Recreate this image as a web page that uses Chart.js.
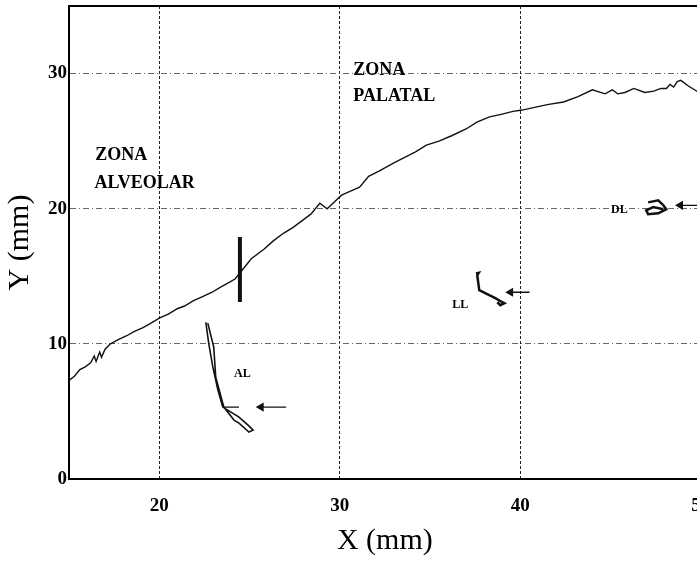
<!DOCTYPE html>
<html>
<head>
<meta charset="utf-8">
<script src="https://cdn.jsdelivr.net/npm/chart.js@4.4.1/dist/chart.umd.min.js"></script>
<style>
  html, body { margin: 0; padding: 0; background: #fff; overflow: hidden; }
  #wrap { width: 706px; height: 561px; }
</style>
</head>
<body>
<div id="wrap"><canvas id="chart"></canvas></div>
<script>
// trace of the tongue contact (mm)
const traceX = [15.0, 15.3, 15.6, 15.9, 16.2, 16.4, 16.5, 16.7, 16.8, 17.0, 17.3, 17.7, 18.2, 18.6, 19.1, 19.5, 20.0, 20.5, 21.0, 21.4, 21.9, 22.4, 22.9, 23.4, 23.8, 24.2, 24.5, 25.1, 25.8, 26.3, 26.9, 27.4, 27.9, 28.4, 28.9, 29.3, 29.7, 30.1, 30.6, 31.1, 31.6, 32.2, 32.6, 33.0, 33.6, 34.2, 34.8, 35.5, 36.2, 37.0, 37.6, 38.3, 39.0, 39.6, 40.1, 40.8, 41.5, 42.4, 43.2, 44.0, 44.7, 45.1, 45.4, 45.8, 46.3, 46.9, 47.4, 47.8, 48.1, 48.3, 48.5, 48.7, 48.9, 49.3, 49.9];
const traceY = [7.3, 7.6, 8.1, 8.3, 8.6, 9.1, 8.7, 9.4, 9.0, 9.6, 10.0, 10.3, 10.6, 10.9, 11.2, 11.5, 11.9, 12.2, 12.6, 12.8, 13.2, 13.5, 13.8, 14.2, 14.5, 14.8, 15.3, 16.3, 17.0, 17.6, 18.2, 18.6, 19.1, 19.6, 20.4, 20.0, 20.5, 21.0, 21.3, 21.6, 22.4, 22.8, 23.1, 23.4, 23.8, 24.2, 24.7, 25.0, 25.4, 25.9, 26.4, 26.8, 27.0, 27.2, 27.3, 27.5, 27.7, 27.9, 28.3, 28.8, 28.5, 28.8, 28.5, 28.6, 28.9, 28.6, 28.7, 28.9, 28.9, 29.2, 29.0, 29.4, 29.5, 29.1, 28.6];

// thick boundary mark between the two zones
const markX = [24.47, 24.47];
const markY = [17.9, 13.1];

// AL contour
const alX = [22.58, 22.74, 22.97, 23.25, 23.52, 24.42, 24.92, 25.20, 24.97, 24.42, 24.14, 23.58, 23.13, 23.02, 22.69];
const alY = [11.60, 10.05, 8.28, 6.58, 5.32, 4.58, 3.99, 3.62, 3.47, 4.14, 4.36, 5.32, 7.54, 9.76, 11.53];
const alStrokeX = [23.58, 24.42];
const alStrokeY = [5.32, 5.32];

// LL contour
const llX = [37.55, 37.70, 37.62, 37.73, 38.06, 38.62, 39.01, 39.12, 38.90, 38.73];
const llY = [15.20, 15.25, 15.08, 13.97, 13.75, 13.38, 13.08, 13.01, 12.86, 13.08];

// DL contour
const dlX = [47.09, 47.65, 47.93, 48.09, 47.65, 47.09, 46.98, 47.37, 47.93];
const dlY = [20.47, 20.62, 20.26, 19.96, 19.66, 19.59, 19.88, 20.12, 19.96];

// arrows (head, tail)
const arrowALX = [25.64, 27.03];
const arrowALY = [5.32, 5.32];
const arrowLLX = [39.46, 40.52];
const arrowLLY = [13.82, 13.82];
const arrowDLX = [48.87, 49.87];
const arrowDLY = [20.25, 20.25];

const xTicks = [20, 30, 40, 50];
const yTicks = [0, 10, 20, 30];

const zoneText = ['ZONA', 'ALVEOLAR', 'ZONA', 'PALATAL'];
const zoneX = [16.45, 16.41, 30.75, 30.75];
const zoneY = [23.6, 21.5, 29.9, 28.0];

const markText = ['AL', 'LL', 'DL'];
const markTextX = [24.14, 36.23, 45.03];
const markTextY = [7.54, 12.64, 19.66];

const serif = '"Liberation Serif", "DejaVu Serif", serif';

const pts = (xs, ys) => xs.map((x, i) => ({ x: x, y: ys[i] }));

function stroke(xs, ys, width) {
  return {
    data: pts(xs, ys),
    borderColor: '#111',
    borderWidth: width,
    pointRadius: 0,
    tension: 0,
  };
}

function arrow(xs, ys) {
  return {
    data: pts(xs, ys),
    borderColor: '#111',
    borderWidth: 1.3,
    pointRadius: [4, 0],
    pointStyle: 'triangle',
    rotation: -90,
    pointBackgroundColor: '#111',
    pointBorderColor: '#111',
    tension: 0,
  };
}

const paperPlugin = {
  id: 'paper',
  beforeDraw(chart) {
    const ctx = chart.ctx;
    ctx.save();
    ctx.fillStyle = '#fff';
    ctx.fillRect(0, 0, chart.width, chart.height);
    ctx.restore();
  },
  afterDraw(chart) {
    const { ctx, chartArea: a, scales: { x, y } } = chart;
    ctx.save();
    // frame top
    ctx.strokeStyle = '#000';
    ctx.lineWidth = 2;
    ctx.beginPath();
    ctx.moveTo(a.left, a.top);
    ctx.lineTo(a.right, a.top);
    ctx.stroke();

    ctx.fillStyle = '#000';
    ctx.textBaseline = 'alphabetic';
    ctx.textAlign = 'left';
    ctx.font = 'bold 18px ' + serif;
    zoneText.forEach((t, i) => {
      ctx.fillText(t, x.getPixelForValue(zoneX[i]), y.getPixelForValue(zoneY[i]));
    });
    ctx.font = 'bold 12px ' + serif;
    markText.forEach((t, i) => {
      ctx.fillText(t, x.getPixelForValue(markTextX[i]), y.getPixelForValue(markTextY[i]));
    });
    ctx.restore();
  }
};

new Chart(document.getElementById('chart'), {
  type: 'line',
  data: {
    datasets: [
      stroke(traceX, traceY, 1.4),
      stroke(markX, markY, 4),
      stroke(alX, alY, 1.6),
      stroke(alStrokeX, alStrokeY, 1.3),
      stroke(llX, llY, 2.5),
      stroke(dlX, dlY, 2.5),
      arrow(arrowALX, arrowALY),
      arrow(arrowLLX, arrowLLY),
      arrow(arrowDLX, arrowDLY),
    ],
  },
  options: {
    responsive: true,
    maintainAspectRatio: false,
    animation: false,
    layout: { padding: { top: 6, right: 0, left: 0, bottom: 0 } },
    plugins: {
      legend: { display: false },
      tooltip: { enabled: false },
    },
    scales: {
      x: {
        type: 'linear',
        min: 15,
        max: 50,
        afterBuildTicks: (s) => { s.ticks = xTicks.map((v) => ({ value: v })); },
        afterFit: (s) => { s.height = 82; s.paddingLeft = 0; s.paddingRight = 0; },
        ticks: {
          color: '#000',
          padding: 16,
          maxRotation: 0,
          autoSkip: false,
          font: { family: serif, size: 19, weight: 'bold' },
        },
        grid: {
          drawTicks: false,
          lineWidth: 1,
          color: (c) => (c.tick && c.tick.value === 50 ? 'rgba(0,0,0,0.3)' : '#222'),
        },
        border: { color: '#000', width: 2, dash: [3, 2] },
        title: {
          display: true,
          text: 'X (mm)',
          color: '#000',
          font: { family: serif, size: 30 },
          padding: { top: 0, bottom: 2 },
        },
      },
      y: {
        min: 0,
        max: 35,
        afterBuildTicks: (s) => { s.ticks = yTicks.map((v) => ({ value: v })); },
        afterFit: (s) => { s.width = 69; s.paddingTop = 0; s.paddingBottom = 0; },
        ticks: {
          color: '#000',
          padding: 2,
          font: { family: serif, size: 19, weight: 'bold' },
        },
        grid: {
          drawTicks: false,
          lineWidth: 1,
          color: (c) => (c.tick && c.tick.value === 0 ? 'rgba(0,0,0,0)' : '#666'),
        },
        border: { color: '#000', width: 2, dash: [6, 3, 1, 3] },
        title: {
          display: true,
          text: 'Y (mm)',
          color: '#000',
          font: { family: serif, size: 30 },
          padding: { top: 2, bottom: 0 },
        },
      },
    },
  },
  plugins: [paperPlugin],
});
</script>
</body>
</html>
